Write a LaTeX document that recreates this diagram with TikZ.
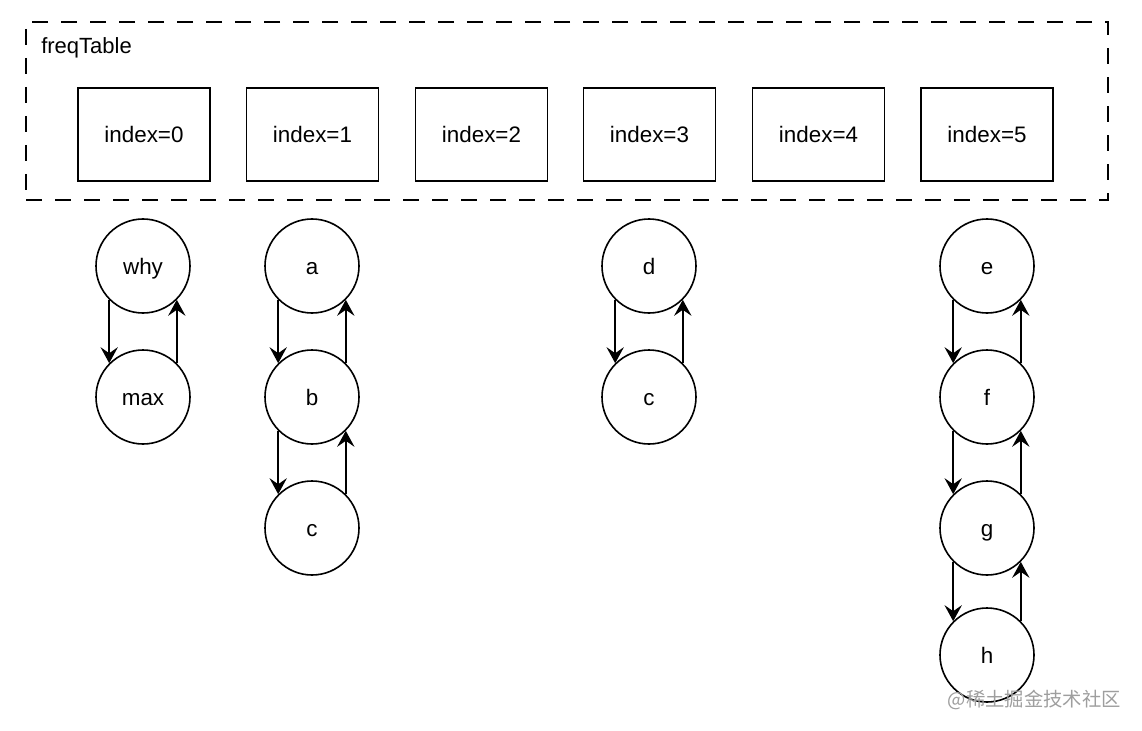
\documentclass[tikz,border=0pt]{standalone}
\usepackage{fontspec}
\setmainfont{Liberation Sans}
\newfontfamily\cjkfont{Noto Sans CJK SC}
\usetikzlibrary{arrows.meta}
\begin{document}
\begin{tikzpicture}[x=0.75pt,y=-0.75pt,
  lw/.style={line width=1.2pt},
  slot/.style={draw,lw,minimum width=99pt,minimum height=69.75pt,inner sep=0pt,font=\fontsize{16.8pt}{20pt}\selectfont},
  item/.style={draw,lw,circle,minimum size=70.5pt,inner sep=0pt,text height=12pt,text depth=0pt,font=\fontsize{16.8pt}{20pt}\selectfont},
  link/.style={lw,-{Stealth[length=12pt,width=13pt,inset=4.5pt]}}
]
\useasboundingbox (0,0) rectangle (1142,731);
\node[draw,lw,dash pattern=on 12pt off 9.75pt,minimum width=811.5pt,minimum height=133.5pt,inner sep=0pt] (frame) at (567,111) {};
\node[anchor=base west,inner sep=0pt,font=\fontsize{16.5pt}{20pt}\selectfont] (title) at (41,54) {freqTable};
\node[slot] (s0) at (144,134.5) {index=0};
\node[slot] (s1) at (312.5,134.5) {index=1};
\node[slot] (s2) at (481.5,134.5) {index=2};
\node[slot] (s3) at (649.5,134.5) {index=3};
\node[slot] (s4) at (818.5,134.5) {index=4};
\node[slot] (s5) at (987,134.5) {index=5};
% nodes
\node[item] (why) at (143,266) {why};
\node[item] (max) at (143,397) {max};
\node[item] (a) at (312,266) {a};
\node[item] (b) at (312,397) {b};
\node[item] (c1) at (312,528) {c};
\node[item] (d) at (649,266) {d};
\node[item] (c2) at (649,397) {c};
\node[item] (e) at (987,266) {e};
\node[item] (f) at (987,397) {f};
\node[item] (g) at (987,528) {g};
\node[item] (h) at (987,655) {h};
% links
\foreach \u/\v in {why/max,a/b,b/c1,d/c2,e/f,f/g,g/h}{
  \draw[link] (\u.225) -- (\v.135);
  \draw[link] (\v.45) -- (\u.315);
}
\node[anchor=base east,inner sep=0pt,text=black!38,font=\cjkfont\fontsize{14.5pt}{17pt}\selectfont] (wm) at (1121,706) {@稀土掘金技术社区};
\end{tikzpicture}
\end{document}
